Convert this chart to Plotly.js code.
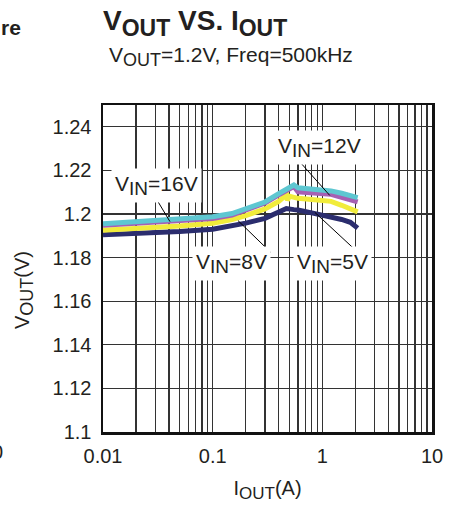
<!DOCTYPE html>
<html><head><meta charset="utf-8">
<script src="https://cdn.plot.ly/plotly-3.0.1.min.js"></script>
<style>html,body{margin:0;padding:0;background:#fff}#chart{width:456px;height:508px}</style>
</head><body><div id="chart"></div>
<script>
// Output current (A)
const iout16 = [0.01,0.02,0.05,0.1,0.15,0.2,0.3,0.4,0.5,0.55,0.6,0.8,1.0,1.2,1.5,2.1];
const vout16 = [1.1955,1.1963,1.1975,1.1987,1.2002,1.2022,1.2055,1.2093,1.2122,1.2133,1.2120,1.2115,1.2110,1.2106,1.2095,1.2075];
const iout12 = [0.01,0.02,0.05,0.1,0.15,0.2,0.3,0.4,0.5,0.55,0.6,0.8,1.0,1.2,1.5,2.1];
const vout12 = [1.1948,1.1956,1.1967,1.1979,1.1995,1.2016,1.2050,1.2088,1.2117,1.2126,1.2102,1.2099,1.2095,1.2090,1.2077,1.2056];
const iout8 = [0.01,0.02,0.05,0.1,0.15,0.2,0.3,0.4,0.45,0.47,0.48,0.5,0.55,0.6,0.8,1.0,1.2,1.5,2.1];
const vout8 = [1.1925,1.1932,1.1945,1.1958,1.1975,1.1993,1.2023,1.2058,1.2080,1.2098,1.2062,1.2082,1.2078,1.2072,1.2066,1.2062,1.2058,1.2040,1.2010];
const iout5 = [0.01,0.02,0.05,0.1,0.15,0.2,0.3,0.4,0.47,0.55,0.6,0.8,1.0,1.2,1.5,1.8,2.1];
const vout5 = [1.1905,1.1910,1.1920,1.1930,1.1945,1.1958,1.1980,1.2005,1.2025,1.2020,1.2018,1.2005,1.1996,1.1988,1.1975,1.1962,1.1935];

const seriesNames = ['V<sub>IN</sub>=5V','V<sub>IN</sub>=8V','V<sub>IN</sub>=12V','V<sub>IN</sub>=16V'];
const xTickVals = [0.01,0.1,1,10];
const xTickText = ['0.01','0.1','1','10'];
const yTickVals = [1.1,1.12,1.14,1.16,1.18,1.2,1.22,1.24];
const yTickText = ['1.1','1.12','1.14','1.16','1.18','1.2','1.22','1.24'];

const FONT = 'Liberation Sans, Arial, Helvetica, sans-serif';
const sub = (t, s) => '<sub><span style="font-size:' + s + 'px">' + t + '</span></sub>';

const minorVals = [];
[0.01,0.1,1].forEach(d => { for (let k = 2; k <= 9; k++) minorVals.push(d * k); });

const colors = ['#2b2d6e','#f1ec3b','#a660b3','#5ec7d1'];
const xs = [iout5, iout8, iout12, iout16];
const ys = [vout5, vout8, vout12, vout16];
const traces = xs.map((x, i) => ({
  x: x, y: ys[i], type: 'scatter', mode: 'lines', name: seriesNames[i],
  line: {color: colors[i], width: 5}, hoverinfo: 'skip'
}));

const lab = (t) => 'V' + sub('IN', 19) + '=' + t;

const pointer = (x, y, ax, ay) => ({
  x: Math.log10(x), y: y, xref: 'x', yref: 'y', text: '', showarrow: true,
  arrowhead: 0, arrowwidth: 1, arrowcolor: '#000', ax: ax, ay: ay, standoff: 0, startstandoff: 0
});
const label = (x, y, t) => ({
  x: Math.log10(x), y: y, xref: 'x', yref: 'y', text: lab(t), showarrow: false,
  bgcolor: '#fff', borderpad: 3, font: {family: FONT, size: 21, color: '#231f20'}
});

const layout = {
  width: 456, height: 508,
  margin: {l: 103, r: 24, t: 105, b: 76},
  paper_bgcolor: '#fff', plot_bgcolor: '#fff',
  showlegend: false,
  font: {family: FONT, size: 20, color: '#231f20'},
  title: {
    text: '<b>V' + sub('OUT', 23) + ' VS. I' + sub('OUT', 23) + '</b>',
    font: {family: FONT, size: 28, color: '#231f20'},
    x: 103/456, xanchor: 'left', xref: 'container',
    y: 1 - 20/508, yanchor: 'middle', yref: 'container'
  },
  xaxis: {
    type: 'log', range: [-2, 1],
    tickmode: 'array', tickvals: xTickVals, ticktext: xTickText,
    ticks: '', showgrid: true, gridcolor: '#333', gridwidth: 1.2,
    minor: {tickmode: 'array', tickvals: minorVals, showgrid: true, gridcolor: '#333', gridwidth: 1.2, ticks: ''},
    showline: true, linecolor: '#111', linewidth: 2.5, mirror: true,
    zeroline: false, tickfont: {family: FONT, size: 20, color: '#231f20'},
    ticklabelstandoff: 4,
    title: {text: 'I' + sub('OUT', 17) + '(A)', font: {family: FONT, size: 20, color: '#231f20'}, standoff: 16}
  },
  yaxis: {
    range: [1.1, 1.25],
    tickmode: 'array', tickvals: yTickVals, ticktext: yTickText,
    ticks: '', showgrid: true, gridcolor: '#333', gridwidth: 1.2,
    showline: true, linecolor: '#111', linewidth: 2.5, mirror: true,
    zeroline: false, tickfont: {family: FONT, size: 20, color: '#231f20'},
    ticklabelstandoff: 5
  },
  annotations: [
    pointer(0.0408, 1.1965, -18, -30),
    pointer(1.17, 1.2085, -33, -37),
    pointer(0.170, 1.1970, 34, 33),
    pointer(0.856, 1.2007, 42, 39),
    label(Math.pow(10, -1.508), 1.2132, '16V'),
    label(Math.pow(10, -0.022), 1.2303, '12V'),
    label(Math.pow(10, -0.824), 1.1771, '8V'),
    label(Math.pow(10, 0.097), 1.1771, '5V'),
    {xref: 'paper', yref: 'paper', x: (107-103)/329, y: (432-56)/327, xanchor: 'left', yanchor: 'middle',
     text: 'V' + sub('OUT', 18) + '=1.2V, Freq=500kHz', showarrow: false,
     font: {family: FONT, size: 21, color: '#231f20'}},
    {xref: 'paper', yref: 'paper', x: (24-103)/329, y: (432-290)/327, xanchor: 'center', yanchor: 'middle',
     text: 'V' + sub('OUT', 18) + '(V)', textangle: -90, showarrow: false,
     font: {family: FONT, size: 20, color: '#231f20'}},
    {xref: 'paper', yref: 'paper', x: (23-103)/329, y: (432-27)/327, xanchor: 'right', yanchor: 'middle',
     text: '<b>re</b>', showarrow: false, font: {family: FONT, size: 21, color: '#231f20'}},
    {xref: 'paper', yref: 'paper', x: (5-103)/329, y: (432-452)/327, xanchor: 'right', yanchor: 'middle',
     text: '0', showarrow: false, font: {family: FONT, size: 20, color: '#231f20'}}
  ]
};

Plotly.newPlot('chart', traces, layout, {displayModeBar: false, staticPlot: true});
</script>
</body></html>
